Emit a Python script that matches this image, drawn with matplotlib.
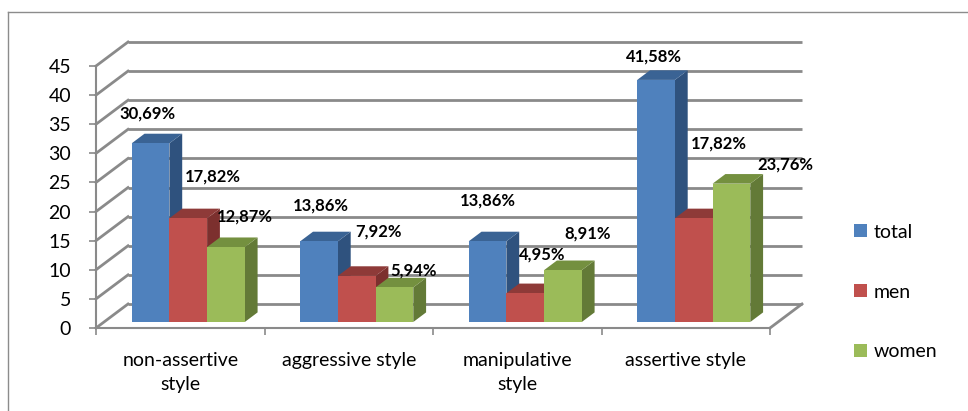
import matplotlib.pyplot as plt
from matplotlib.patches import Polygon, Patch
from matplotlib.lines import Line2D

categories = ['non-assertive\nstyle', 'aggressive style', 'manipulative\nstyle', 'assertive style']
series = ['total', 'men', 'women']
total = [30.69, 13.86, 13.86, 41.58]
men = [17.82, 7.92, 4.95, 17.82]
women = [12.87, 5.94, 8.91, 23.76]
yticks = [0, 5, 10, 15, 20, 25, 30, 35, 40, 45]

front_colors = ['#4F81BD', '#C0504D', '#9BBB59']
top_colors = ['#3A6394', '#8E3A38', '#74903F']
side_colors = ['#2F527E', '#7C302E', '#637A37']
grid_color = '#8A8A8A'

# label offsets (pixels) from the top-centre of each bar's front face
label_offsets = [
    [(-3, 30), (2, 36), (0, 41), (-2, 23)],
    [(25, 42), (22, 44), (17, 39), (25, 75)],
    [(19, 31), (19, 17), (25, 37), (54, 19)],
]

plt.rcParams['font.family'] = ['Lato', 'DejaVu Sans']

W, H = 968, 411
fig = plt.figure(figsize=(W / 100, H / 100), dpi=100)
ax = fig.add_axes([96 / W, 83 / H, 674 / W, 262 / H])
ax.set_xlim(-0.5, 3.5)
ax.set_ylim(0, 45)

# depth of the back wall, expressed in data units
px_x = 674 / 4
px_y = 262 / 45
DX, DY = 32 / px_x, 24 / px_y

# back wall gridlines and side-wall diagonals
for v in yticks:
    ax.plot([-0.5 + DX, 3.5 + DX], [v + DY, v + DY], color=grid_color,
            lw=2, zorder=1, clip_on=False, solid_capstyle='butt')
    ax.plot([-0.5, -0.5 + DX], [v, v + DY], color=grid_color,
            lw=2, zorder=1, clip_on=False)
# right edge of the floor
ax.plot([3.5, 3.5 + DX], [0, DY], color=grid_color, lw=2, zorder=1, clip_on=False)

# 3d-looking bars
bw = 0.2237
d0, d1 = 0.25, 0.65
values = [total, men, women]
for i in range(len(categories)):
    for j, vals in enumerate(values):
        h = vals[i]
        x0 = i + (j - 1) * bw - bw / 2
        x1 = x0 + bw
        ax0, ay0 = DX * d0, DY * d0
        ax1, ay1 = DX * d1, DY * d1
        front = [(x0 + ax0, ay0), (x1 + ax0, ay0), (x1 + ax0, h + ay0), (x0 + ax0, h + ay0)]
        top = [(x0 + ax0, h + ay0), (x1 + ax0, h + ay0), (x1 + ax1, h + ay1), (x0 + ax1, h + ay1)]
        side = [(x1 + ax0, ay0), (x1 + ax1, ay1), (x1 + ax1, h + ay1), (x1 + ax0, h + ay0)]
        for pts, c in ((side, side_colors[j]), (top, top_colors[j]), (front, front_colors[j])):
            ax.add_patch(Polygon(pts, closed=True, facecolor=c, edgecolor='none',
                                 zorder=3, clip_on=False))
        ox, oy = label_offsets[j][i]
        ax.annotate(f'{h:.2f}%'.replace('.', ','), xy=((x0 + x1) / 2 + ax0, h + ay0),
                    xytext=(ox, oy), textcoords='offset pixels', ha='center',
                    va='center', fontsize=12, fontweight='bold', color='black',
                    zorder=5, annotation_clip=False)

for side_name in ('top', 'right'):
    ax.spines[side_name].set_visible(False)
for side_name in ('left', 'bottom'):
    ax.spines[side_name].set_color(grid_color)
    ax.spines[side_name].set_linewidth(1.5)

ax.set_yticks(yticks)
ax.set_yticklabels([str(v) for v in yticks], fontsize=14)
ax.tick_params(axis='y', direction='out', length=5, width=1.2, color=grid_color, pad=13)

ax.set_xticks(range(len(categories)))
ax.set_xticklabels(categories, fontsize=14)
ax.set_xticks([-0.5, 0.5, 1.5, 2.5, 3.5], minor=True)
ax.tick_params(axis='x', which='major', length=0, pad=17)
ax.tick_params(axis='x', which='minor', direction='out', length=5, width=1.2, color=grid_color)
for lbl in ax.get_xticklabels():
    lbl.set_linespacing(1.5)
ax.set_facecolor('none')

handles = [Patch(facecolor=c, edgecolor='none') for c in front_colors]
fig.legend(handles, series, loc='center left', bbox_to_anchor=(854 / W, 1 - 292 / H),
           frameon=False, fontsize=14, handlelength=0.65, handleheight=0.65,
           handletextpad=0.35, labelspacing=2.2, borderpad=0, borderaxespad=0)

# chart area border
fig.add_artist(Line2D([8 / W, 1], [1 - 12 / H, 1 - 12 / H], color='#8C8C8C', lw=1))
fig.add_artist(Line2D([8 / W, 8 / W], [0, 1 - 12 / H], color='#8C8C8C', lw=1))

fig.savefig('out.png', dpi=100)
